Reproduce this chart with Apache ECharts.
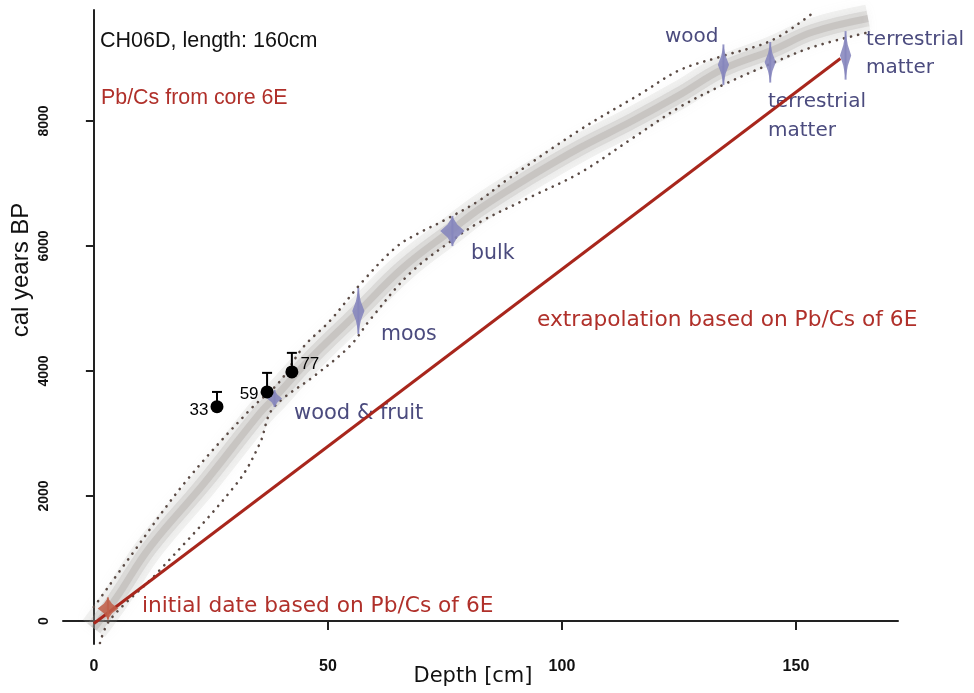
<!DOCTYPE html>
<html>
<head>
<meta charset="utf-8">
<script src="https://cdn.jsdelivr.net/npm/echarts@6/dist/echarts.min.js"></script>
<style>
  html, body { margin: 0; padding: 0; background: #fff; }
  #chart { width: 974px; height: 693px; }
</style>
</head>
<body>
<div id="chart"></div>
<script>
// age model (mean) and confidence limits
const bandDepth = [0, 4.9, 12, 23.5, 35.5, 38.7, 46, 56.4, 66, 76.7, 82.5, 93, 103.8, 115, 125.2, 134.4, 145, 153.6, 165.4];
const bandAge = [-120, 384, 1184, 2200, 3330, 3580, 4180, 4940, 5650, 6270, 6600, 7100, 7570, 8000, 8420, 8830, 9136, 9424, 9640];

const upperDepth = [0, 7.7, 19.5, 33.3, 39.7, 44.7, 50.4, 57.5, 64.7, 70, 74.6, 82.5, 88.2, 103.8, 116.7, 125.2, 134.4, 145, 153.6];
const upperAge = [224, 1024, 2220, 3376, 3830, 4380, 4800, 5440, 5990, 6230, 6400, 6736, 7056, 7856, 8430, 8816, 9040, 9296, 9728];

const lowerDepth = [1.3, 3.4, 13.5, 30.6, 35.5, 37.6, 40.4, 46.8, 54.7, 59, 67.5, 76.7, 82.5, 93.2, 103.8, 115, 125.2, 134.4, 145, 153.6, 165.8];
const lowerAge = [-352, 16, 768, 2208, 2848, 3328, 3560, 3904, 4400, 4820, 5560, 6100, 6384, 6780, 7168, 7720, 8224, 8576, 8928, 9184, 9424];

// extrapolation from Pb/Cs of core 6E
const extrapDepth = [0, 159.5];
const extrapAge = [-40, 9000];

// calibrated 14C dates (depth, age, age half-range, depth half-range)
const calDepth = [38.6, 56.5, 76.6, 134.5, 144.5, 160.6];
const calAge = [3560, 4960, 6240, 8900, 8940, 9050];
const calAgeSpread = [130, 350, 230, 310, 310, 370];
const calDepthSpread = [1.6, 1.3, 2.6, 1.2, 1.2, 1.2];

// initial Pb/Cs date
const pbDepth = [3];
const pbAge = [200];
const pbAgeSpread = [170];
const pbDepthSpread = [2.2];

// rejected dates with upper error
const dateNames = ["33", "59", "77"];
const dateDepth = [26.3, 37, 42.3];
const dateAge = [3430, 3665, 3985];
const dateTop = [3665, 3970, 4290];

const xTicks = [0, 50, 100, 150];
const yTicks = [0, 2000, 4000, 6000, 8000];

const zip = (a, b) => a.map((v, i) => [v, b[i]]);

const chart = echarts.init(document.getElementById("chart"));

function renderCal(color) {
  return function (params, api) {
    const c = api.coord([api.value(0), api.value(1)]);
    const s = api.size([api.value(3), api.value(2)]);
    const w = s[0], h = s[1], x = c[0], y = c[1];
    return {
      type: "group",
      children: [
        {
          type: "line",
          shape: { x1: x, y1: y - h * 1.05, x2: x, y2: y + h * 1.05 },
          style: { stroke: color, lineWidth: 2, opacity: 0.85 },
        },
        {
          type: "polygon",
          shape: {
            points: [
              [x, y - h], [x + w * 0.4, y - h * 0.45], [x + w, y],
              [x + w * 0.4, y + h * 0.45], [x, y + h],
              [x - w * 0.4, y + h * 0.45], [x - w, y], [x - w * 0.4, y - h * 0.45],
            ],
          },
          style: { fill: color, opacity: 0.88 },
        },
      ],
    };
  };
}

const purple = "#4b4b7e";
const red = "#b0302a";
const textFont = "DejaVu Sans";

function txt(text, x, y, color, size, family) {
  return {
    type: "text",
    x: x,
    y: y,
    style: {
      text: text,
      fill: color,
      fontSize: size,
      fontFamily: family || textFont,
      verticalAlign: "middle",
    },
  };
}

chart.setOption({
  animation: false,
  grid: { left: 63, right: 76, top: 10, bottom: 49 },
  xAxis: {
    type: "value",
    min: -6.6,
    max: 171.8,
    axisLine: { show: true, lineStyle: { color: "#222", width: 2 } },
    axisTick: { show: true, customValues: xTicks, length: 9, lineStyle: { color: "#222", width: 2 } },
    axisLabel: {
      customValues: xTicks,
      formatter: (v) => String(v),
      margin: 15,
      color: "#111",
      fontSize: 16,
      fontWeight: "bold",
      fontFamily: "Liberation Sans",
    },
    splitLine: { show: false },
  },
  yAxis: {
    type: "value",
    min: -368,
    max: 9776,
    axisLine: { show: true, lineStyle: { color: "#222", width: 2 } },
    axisTick: { show: true, customValues: yTicks, length: 8, lineStyle: { color: "#222", width: 2 } },
    axisLabel: {
      customValues: yTicks,
      formatter: (v) => String(v),
      rotate: 90,
      margin: 12,
      color: "#111",
      fontSize: 14,
      fontWeight: "bold",
      fontFamily: "Liberation Sans",
    },
    splitLine: { show: false },
  },
  graphic: [
    txt("CH06D, length: 160cm", 100, 41, "#111", 21.5, "Liberation Sans"),
    txt("Pb/Cs from core 6E", 101, 98, red, 21.4, "Liberation Sans"),
    txt("wood", 665, 37, purple, 20),
    txt("terrestrial", 866, 40, purple, 20),
    txt("matter", 866, 68, purple, 20),
    txt("terrestrial", 768, 102, purple, 20),
    txt("matter", 768, 131, purple, 20),
    txt("bulk", 471, 254, purple, 20.5),
    txt("moos", 381, 335, purple, 20.5),
    txt("wood & fruit", 294, 414, purple, 21),
    txt("extrapolation based on Pb/Cs of 6E", 537, 320, red, 21.7),
    txt("initial date based on Pb/Cs of 6E", 142, 606, red, 21.7),
    {
      type: "text",
      x: 473,
      y: 677,
      style: { text: "Depth [cm]", fill: "#111", fontSize: 21, fontFamily: textFont, align: "center", verticalAlign: "middle" },
    },
    {
      type: "text",
      x: 21,
      y: 270,
      rotation: Math.PI / 2,
      style: { text: "cal years BP", fill: "#111", fontSize: 24, fontFamily: "Liberation Sans", align: "center", verticalAlign: "middle" },
    },
  ],
  series: [
    {
      type: "line",
      data: zip(bandDepth, bandAge),
      smooth: 0.4,
      showSymbol: false,
      lineStyle: { color: "rgba(175,172,168,0.16)", width: 28, cap: "butt", shadowBlur: 12, shadowColor: "rgba(170,170,170,0.35)" },
    },
    {
      type: "line",
      data: zip(bandDepth, bandAge),
      smooth: 0.4,
      showSymbol: false,
      lineStyle: { color: "rgba(165,160,155,0.22)", width: 16, cap: "butt", shadowBlur: 6, shadowColor: "rgba(160,160,160,0.3)" },
    },
    {
      type: "line",
      data: zip(bandDepth, bandAge),
      smooth: 0.4,
      showSymbol: false,
      lineStyle: { color: "rgba(150,145,140,0.28)", width: 7, cap: "butt" },
    },
    {
      type: "line",
      data: zip(upperDepth, upperAge),
      smooth: 0.35,
      showSymbol: false,
      lineStyle: { color: "#5a4a44", width: 2.6, type: [0.1, 7.2], cap: "round" },
    },
    {
      type: "line",
      data: zip(lowerDepth, lowerAge),
      smooth: 0.35,
      showSymbol: false,
      lineStyle: { color: "#5a4a44", width: 2.6, type: [0.1, 7.2], cap: "round" },
    },
    {
      type: "line",
      data: zip(extrapDepth, extrapAge),
      showSymbol: false,
      lineStyle: { color: "#a8261c", width: 3 },
    },
    {
      type: "custom",
      z: 5,
      renderItem: renderCal("#c0604a"),
      data: pbDepth.map((d, i) => [d, pbAge[i], pbAgeSpread[i], pbDepthSpread[i]]),
    },
    {
      type: "custom",
      z: 5,
      renderItem: renderCal("#8585bd"),
      data: calDepth.map((d, i) => [d, calAge[i], calAgeSpread[i], calDepthSpread[i]]),
    },
    {
      type: "custom",
      z: 6,
      renderItem: function (params, api) {
        const p0 = api.coord([api.value(0), api.value(1)]);
        const p1 = api.coord([api.value(0), api.value(2)]);
        return {
          type: "group",
          children: [
            { type: "line", shape: { x1: p0[0], y1: p0[1], x2: p1[0], y2: p1[1] }, style: { stroke: "#000", lineWidth: 2 } },
            { type: "line", shape: { x1: p1[0] - 5, y1: p1[1], x2: p1[0] + 5, y2: p1[1] }, style: { stroke: "#000", lineWidth: 2 } },
          ],
        };
      },
      data: dateDepth.map((d, i) => [d, dateAge[i], dateTop[i]]),
    },
    {
      type: "scatter",
      z: 7,
      symbolSize: 13,
      itemStyle: { color: "#000", opacity: 1 },
      data: dateDepth.map((d, i) => ({
        value: [d, dateAge[i]],
        label: {
          show: true,
          formatter: dateNames[i],
          position: i === 2 ? "right" : "left",
          distance: 2,
          offset: [0, [4, 2, -8][i]],
          color: "#000",
          fontSize: 17,
          fontFamily: "Liberation Sans",
        },
      })),
    },
  ],
});
</script>
</body>
</html>
